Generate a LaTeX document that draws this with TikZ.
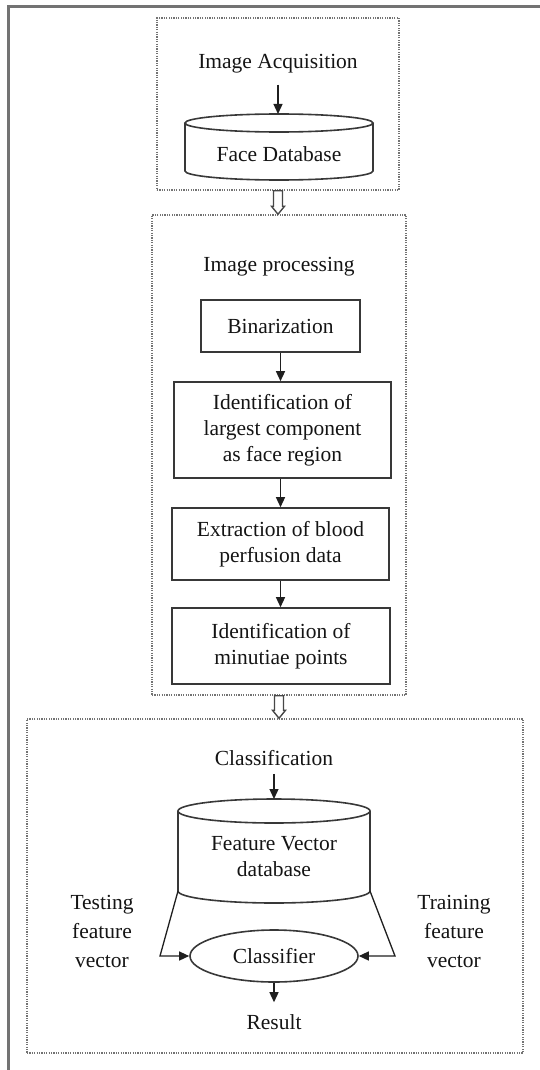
\documentclass[tikz,border=0pt]{standalone}
\usepackage{fontspec}
\setmainfont{Liberation Serif}
\usetikzlibrary{shapes.geometric,arrows.meta,calc}
\begin{document}
\begin{tikzpicture}[x=1pt,y=-1pt,
  txt/.style={font=\fontsize{21.5}{26}\selectfont, text=black!92, align=center, inner sep=2pt},
  stepbox/.style={txt, draw=black!78, line width=1.6pt},
  frame/.style={draw=black!55, line width=1.5pt, dash pattern=on 1.2pt off 1.2pt, inner sep=0pt},
  arr/.style={-{Triangle[length=10pt,width=9pt]}, line width=1.3pt, draw=black!88},
  harrow/.style={draw=black!72, line width=1.4pt, fill=white, line join=miter},
  cyl/.style={draw=black!78, line width=1.6pt},
  outer/.style={draw=black!55, line width=3pt}]
\useasboundingbox (0,0) rectangle (540,1070);
\draw[outer] (8,1070) -- (8,7) -- (540,7);

% frames
\node[frame, minimum width=242pt, minimum height=172pt] (f1) at (278,104) {};
\node[frame, minimum width=254pt, minimum height=480pt] (f2) at (279,455) {};
\node[frame, minimum width=496pt, minimum height=334pt] (f3) at (275,886) {};

% hollow arrows between frames
\draw[harrow] ($(f1.south)+(-4.5,0)$) -- ($(f1.south |- f2.north)+(-4.5,-8)$) -- ++(-2,0)
  -- (f1.south |- f2.north) -- ++(6.5,-8) -- ++(-2,0) -- ($(f1.south)+(4.5,0)$) -- cycle;
\draw[harrow] ($(f2.south)+(-4.5,0)$) -- ($(f2.south |- f3.north)+(-4.5,-8)$) -- ++(-2,0)
  -- (f2.south |- f3.north) -- ++(6.5,-8) -- ++(-2,0) -- ($(f2.south)+(4.5,0)$) -- cycle;

% top section
\node[txt] (acq) at (278,64) {Image Acquisition};
\draw[cyl] (185,123) -- (185,171) arc[start angle=180, end angle=360, x radius=94pt, y radius=9pt] -- (373,123);
\draw[cyl] (279,123) ellipse [x radius=94pt, y radius=9pt];
\coordinate (fdbtop) at (279,114);
\node[txt] (fdb) at (279,154) {Face Database};
\draw[arr, shorten <=9pt] (acq.south) -- (acq.south |- fdbtop);

% image processing
\node[txt] (proc) at (279,267) {Image processing};
\node[stepbox, minimum width=159pt, minimum height=52pt] (bin) at (280.5,326) {Binarization};
\node[stepbox, minimum width=217pt, minimum height=96pt] (idf) at (282.5,430) {Identification of\\largest component\\as face region};
\node[stepbox, minimum width=217pt, minimum height=72pt] (ext) at (280.5,544) {Extraction of blood\\perfusion data};
\node[stepbox, minimum width=218pt, minimum height=76pt] (mnt) at (281,646) {Identification of\\minutiae points};
\draw[arr] (bin.south) -- (bin.south |- idf.north);
\draw[arr] (ext.north |- idf.south) -- (ext.north);
\draw[arr] (ext.south) -- (ext.south |- mnt.north);

% classification
\node[txt] (cls) at (274,758) {Classification};
\draw[cyl] (178,811) -- (178,891) arc[start angle=180, end angle=360, x radius=96pt, y radius=12pt] -- (370,811);
\draw[cyl] (274,811) ellipse [x radius=96pt, y radius=12pt];
\coordinate (fvtop) at (274,799);
\node[txt] (fvt) at (274,857) {Feature Vector\\database};
\draw[arr, shorten <=6pt] (cls.south) -- (fvtop);

\node[ellipse, draw=black!78, line width=1.6pt, minimum width=168pt, minimum height=52pt, inner sep=0pt,
  font=\fontsize{21.5}{26}\selectfont, text=black!92] (clf) at (274,956) {Classifier};
\node[txt] (res) at (274,1022) {Result};
\draw[arr, shorten >=10pt] (clf.south) -- (res.north);

\node[txt, font=\fontsize{21.5}{29}\selectfont] (test) at (102,931) {Testing\\feature\\vector};
\node[txt, font=\fontsize{21.5}{29}\selectfont] (train) at (454,931) {Training\\feature\\vector};

\coordinate (fvbl) at (178,891);
\coordinate (fvbr) at (370,891);
\coordinate (tl) at (160,956);
\coordinate (tr) at (395,956);
\draw[arr] (fvbl) -- (tl) -- (clf.west);
\draw[arr] (fvbr) -- (tr) -- (clf.east);
\end{tikzpicture}
\end{document}
